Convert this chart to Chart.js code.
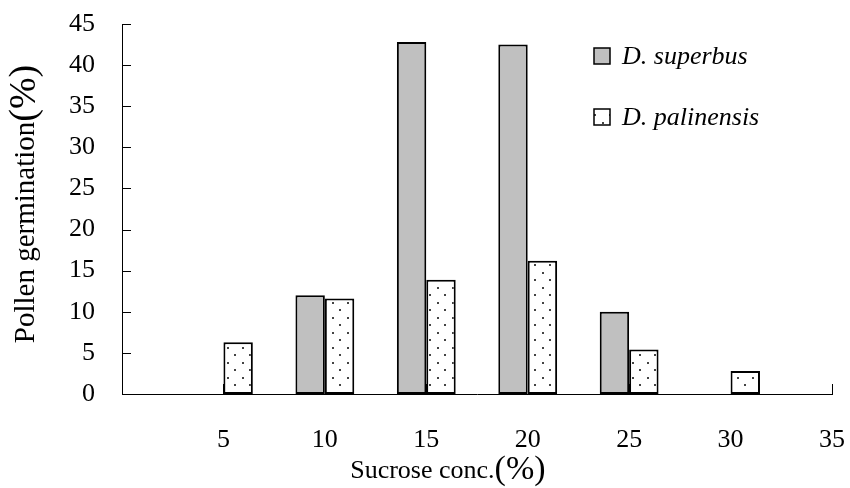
<!DOCTYPE html>
<html>
<head>
<meta charset="utf-8">
<script src="https://cdn.jsdelivr.net/npm/chart.js@4.4.1/dist/chart.umd.min.js"></script>
<style>
  html, body { margin: 0; padding: 0; background: #fff; }
  #wrap { width: 850px; height: 488px; position: relative; }
</style>
</head>
<body>
<div id="wrap"><canvas id="pollenChart"></canvas></div>
<script>
const categories = ['0', '5', '10', '15', '20', '25', '30', '35'];
const superbus = [null, null, 12.0, 42.8, 42.5, 10.0, null, null];
const palinensis = [null, 6.3, 11.6, 13.9, 16.2, 5.4, 2.8, null];
const seriesNames = ['D. superbus', 'D. palinensis'];
const yMax = 45;
const yStep = 5;

const serif = '"Liberation Serif", "Times New Roman", serif';

// dotted fill like the old excel pattern
function dotPattern() {
    const c = document.createElement('canvas');
    c.width = 15;
    c.height = 15;
    const g = c.getContext('2d');
    g.fillStyle = '#fff';
    g.fillRect(0, 0, 15, 15);
    g.fillStyle = '#444';
    g.fillRect(2, 2, 2, 2);
    g.fillRect(9, 9, 2, 2);
    return g.createPattern(c, 'repeat');
}

// text with a bigger "(%)" at the end, like the original
function titleText(ctx, text, unit, x, y, size) {
    const big = Math.round(size * 1.3);
    ctx.font = size + 'px ' + serif;
    const w1 = ctx.measureText(text).width;
    ctx.font = big + 'px ' + serif;
    const w2 = ctx.measureText(unit).width;
    let start = x - (w1 + w2) / 2;
    ctx.textAlign = 'left';
    ctx.font = size + 'px ' + serif;
    ctx.fillText(text, start, y);
    ctx.font = big + 'px ' + serif;
    ctx.fillText(unit, start + w1, y - 1);
}

const ctx = document.getElementById('pollenChart').getContext('2d');
const dots = dotPattern();

const innerTicks = {
    id: 'innerTicks',
    beforeDatasetsDraw(chart) {
        const { ctx, chartArea, scales } = chart;
        ctx.save();
        ctx.strokeStyle = '#000';
        ctx.lineWidth = 1;
        scales.y.ticks.forEach(t => {
            const y = Math.round(scales.y.getPixelForValue(t.value)) + 0.5;
            ctx.beginPath();
            ctx.moveTo(chartArea.left, y);
            ctx.lineTo(chartArea.left + 9, y);
            ctx.stroke();
        });
        categories.forEach((c, i) => {
            const x = Math.round(scales.x.getPixelForValue(i)) + 0.5;
            ctx.beginPath();
            ctx.moveTo(x, chartArea.bottom);
            ctx.lineTo(x, chartArea.bottom - 10);
            ctx.stroke();
        });
        ctx.restore();
    }
};

const extras = {
    id: 'extras',
    afterDraw(chart) {
        const { ctx, chartArea } = chart;
        ctx.save();
        ctx.fillStyle = '#000';
        ctx.textBaseline = 'middle';
        // axis titles
        titleText(ctx, 'Sucrose conc.', '(%)', chartArea.left + (chartArea.right - chartArea.left) * 0.459, 471, 26);
        ctx.save();
        ctx.translate(26, (chartArea.top + chartArea.bottom) / 2 - 5);
        ctx.rotate(-Math.PI / 2);
        titleText(ctx, 'Pollen germination', '(%)', 0, 0, 29);
        ctx.restore();

        // legend inside the plot
        const lx = chartArea.right - 238;
        const rows = [chartArea.top + 32, chartArea.top + 93];
        ctx.textAlign = 'left';
        ctx.font = 'italic 26px ' + serif;
        chart.data.datasets.forEach((ds, i) => {
            const y = rows[i];
            ctx.fillStyle = ds.backgroundColor;
            ctx.fillRect(lx, y - 8, 16, 16);
            ctx.strokeStyle = '#000';
            ctx.lineWidth = 1.5;
            ctx.strokeRect(lx, y - 8, 16, 16);
            ctx.fillStyle = '#000';
            ctx.fillText(ds.label, lx + 28, y + 1);
        });
        ctx.restore();
    }
};

new Chart(ctx, {
    type: 'bar',
    data: {
        labels: categories,
        datasets: [{
            label: seriesNames[0],
            data: superbus,
            backgroundColor: '#c0c0c0',
            borderColor: '#000',
            borderWidth: 2,
            borderSkipped: false
        }, {
            label: seriesNames[1],
            data: palinensis,
            backgroundColor: dots,
            borderColor: '#000',
            borderWidth: 2,
            borderSkipped: false
        }]
    },
    options: {
        responsive: true,
        maintainAspectRatio: false,
        animation: false,
        categoryPercentage: 0.58,
        barPercentage: 1.0,
        layout: { padding: { top: 24, right: 18, left: 0, bottom: 0 } },
        plugins: {
            legend: { display: false },
            tooltip: { enabled: false }
        },
        scales: {
            x: {
                offset: false,
                grid: { display: false, drawTicks: false },
                border: { display: true, color: '#000', width: 1 },
                ticks: {
                    color: '#000',
                    font: { family: serif, size: 26 },
                    padding: 31,
                    maxRotation: 0,
                    autoSkip: false,
                    callback: function (value, index) {
                        return index === 0 ? '' : categories[index];
                    }
                },
                afterFit: function (scale) {
                    scale.height = 94;
                    scale.paddingLeft = 0;
                    scale.paddingRight = 0;
                }
            },
            y: {
                min: 0,
                max: yMax,
                grid: { display: false, drawTicks: false },
                border: { display: true, color: '#000', width: 1 },
                ticks: {
                    stepSize: yStep,
                    color: '#000',
                    font: { family: serif, size: 26 },
                    padding: 27
                },
                afterFit: function (scale) {
                    scale.width = 122;
                    scale.paddingTop = 0;
                    scale.paddingBottom = 0;
                }
            }
        }
    },
    plugins: [innerTicks, extras]
});
</script>
</body>
</html>
